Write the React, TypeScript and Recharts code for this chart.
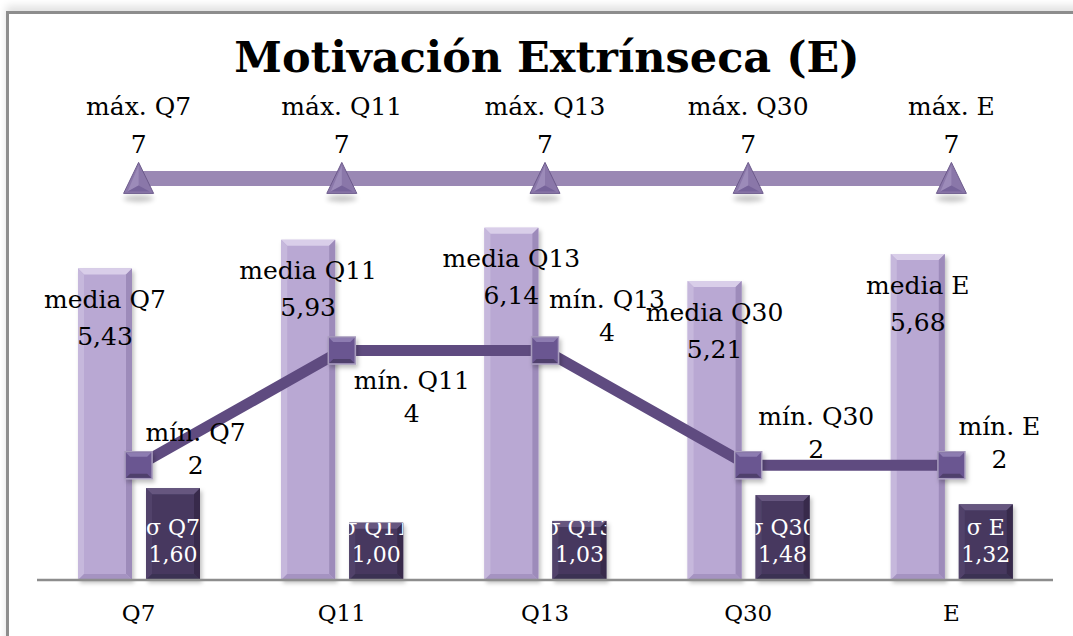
import React from "react";
import { ComposedChart, Bar, Line, XAxis, YAxis, LabelList } from "recharts";

const CATEGORIES = ["Q7", "Q11", "Q13", "Q30", "E"];
const MEDIA = [5.43, 5.93, 6.14, 5.21, 5.68];
const SIGMA = [1.6, 1.0, 1.03, 1.48, 1.32];
const MIN = [2, 4, 4, 2, 2];
const MAX = [7, 7, 7, 7, 7];

// the min labels were placed by hand in the original, offsets from the marker
const MIN_LABEL_OFFSET = [
  [57, -33],
  [70, 30],
  [62, -51],
  [68, -49],
  [48, -39],
];

const FONT = '"DejaVu Serif", Georgia, serif';
const fmt = (v: number) => v.toFixed(2).replace(".", ",");

const data = CATEGORIES.map((name, i) => ({
  name,
  media: MEDIA[i],
  sigma: SIGMA[i],
  min: MIN[i],
  max: MAX[i],
}));

const box = (p: any) => {
  const vb = p.viewBox && p.viewBox.width != null ? p.viewBox : p;
  return { x: Number(vb.x), y: Number(vb.y), width: Number(vb.width) || 0, height: Number(vb.height) || 0 };
};

function BevelBar(props: any) {
  const { x, y, width: w, height: h, face, light, left, right, bottom } = props;
  if (!h || h <= 0) return null;
  const b = 6;
  return (
    <g filter="url(#barShadow)">
      <rect x={x} y={y} width={w} height={h} fill={face} />
      <polygon points={`${x},${y} ${x + w},${y} ${x + w - b},${y + b} ${x + b},${y + b}`} fill={light} />
      <polygon points={`${x},${y} ${x + b},${y + b} ${x + b},${y + h - b} ${x},${y + h}`} fill={left} />
      <polygon points={`${x + w},${y} ${x + w},${y + h} ${x + w - b},${y + h - b} ${x + w - b},${y + b}`} fill={right} />
      <polygon points={`${x},${y + h} ${x + b},${y + h - b} ${x + w - b},${y + h - b} ${x + w},${y + h}`} fill={bottom} />
    </g>
  );
}

const MediaBar = (p: any) => (
  <BevelBar {...p} face="#B9A8D3" light="#D9CEE9" left="#C6B8DC" right="#9D8BBA" bottom="#A593C1" />
);
const SigmaBar = (p: any) => (
  <BevelBar {...p} face="#46395F" light="#66567F" left="#51436B" right="#372C4C" bottom="#3B3052" />
);

const MediaLabel = (p: any) => {
  const { x, y, width } = box(p);
  const cx = x + width / 2;
  const name = CATEGORIES[p.index];
  return (
    <g fontFamily={FONT} fontSize={25} fill="#000" textAnchor="middle">
      <text x={cx} y={y + 31} dominantBaseline="central">{`media ${name}`}</text>
      <text x={cx} y={y + 68} dominantBaseline="central">{fmt(MEDIA[p.index])}</text>
    </g>
  );
};

const SigmaLabel = (p: any) => {
  const { x, y, width, height } = box(p);
  const cx = x + width / 2;
  const bottom = y + height;
  const id = `sigma-clip-${p.index}`;
  return (
    <g fontFamily={FONT} fontSize={22} fill="#fff" textAnchor="middle">
      <defs>
        <clipPath id={id}>
          <rect x={x} y={y} width={width} height={height} />
        </clipPath>
      </defs>
      <g clipPath={`url(#${id})`}>
        <text x={cx} y={bottom - 53} dominantBaseline="central">{`σ ${CATEGORIES[p.index]}`}</text>
        <text x={cx} y={bottom - 26} dominantBaseline="central">{fmt(SIGMA[p.index])}</text>
      </g>
    </g>
  );
};

const TriangleDot = (p: any) => {
  const { cx, cy, index } = p;
  const w = 15;
  const top = cy - 16;
  const base = cy + 15;
  return (
    <g key={`tri-${index}`}>
      <ellipse cx={cx} cy={base + 5} rx={15} ry={3.5} fill="#000" opacity={0.22} filter="url(#softBlur)" />
      <polygon points={`${cx},${top} ${cx + w},${base} ${cx - w},${base}`} fill="#8A77A9" stroke="#6C5A8B" strokeWidth={1} />
      <polygon points={`${cx},${top + 3} ${cx - w + 4},${base - 2} ${cx},${base - 8}`} fill="#9C8BB9" />
      <polygon points={`${cx},${base - 8} ${cx - w + 4},${base - 2} ${cx + w - 4},${base - 2}`} fill="#76639A" />
    </g>
  );
};

const MaxLabel = (p: any) => {
  const { x, y } = box(p);
  return (
    <g fontFamily={FONT} fontSize={25} fill="#000" textAnchor="middle">
      <text x={x} y={y - 72} dominantBaseline="central">{`máx. ${CATEGORIES[p.index]}`}</text>
      <text x={x} y={y - 34} dominantBaseline="central">{String(MAX[p.index])}</text>
    </g>
  );
};

const SquareDot = (p: any) => {
  const { cx, cy, index } = p;
  const s = 13.5;
  const b = 4;
  return (
    <g key={`sq-${index}`} filter="url(#barShadow)">
      <rect x={cx - s} y={cy - s} width={2 * s} height={2 * s} fill="#6A5691" stroke="#A79BBD" strokeWidth={1.5} />
      <polygon
        points={`${cx - s + 1},${cy - s + 1} ${cx + s - 1},${cy - s + 1} ${cx + s - 1 - b},${cy - s + 1 + b} ${cx - s + 1 + b},${cy - s + 1 + b}`}
        fill="#8D7CB1"
      />
      <polygon
        points={`${cx - s + 1},${cy + s - 1} ${cx + s - 1},${cy + s - 1} ${cx + s - 1 - b},${cy + s - 1 - b} ${cx - s + 1 + b},${cy + s - 1 - b}`}
        fill="#4F3F6C"
      />
    </g>
  );
};

const MinLabel = (p: any) => {
  const { x, y } = box(p);
  const [dx, dy] = MIN_LABEL_OFFSET[p.index];
  return (
    <g fontFamily={FONT} fontSize={25} fill="#000" textAnchor="middle">
      <text x={x + dx} y={y + dy} dominantBaseline="central">{`mín. ${CATEGORIES[p.index]}`}</text>
      <text x={x + dx} y={y + dy + 33} dominantBaseline="central">{String(MIN[p.index])}</text>
    </g>
  );
};

const CategoryTick = (p: any) => (
  <text x={p.x} y={p.y + 33} fontFamily={FONT} fontSize={23} fill="#000" textAnchor="middle" dominantBaseline="central">
    {p.payload.value}
  </text>
);

export default function App() {
  return (
    <div style={{ position: "absolute", left: 0, top: 0, width: 1073, height: 636, overflow: "hidden", background: "#fff" }}>
      <div
        style={{
          position: "absolute",
          left: 6,
          top: 11,
          width: 1120,
          height: 700,
          borderLeft: "3px solid #8D8D8D",
          borderTop: "3px solid #8D8D8D",
          boxShadow: "0 -5px 8px rgba(0,0,0,0.12)",
        }}
      />
      <svg width={1073} height={90} style={{ position: "absolute", left: 0, top: 0 }}>
        <text x={547} y={72} textAnchor="middle" fontFamily={FONT} fontWeight="bold" fontSize={43} fill="#000">
          Motivación Extrínseca (E)
        </text>
      </svg>
      <div style={{ position: "absolute", left: 0, top: 0 }}>
        <ComposedChart width={1073} height={636} data={data} margin={{ top: 121, right: 20, bottom: 16, left: 37 }} barGap={14}>
          <defs>
            <filter id="barShadow" x="-20%" y="-20%" width="150%" height="150%">
              <feDropShadow dx={2} dy={3} stdDeviation={2} floodColor="#000" floodOpacity={0.25} />
            </filter>
            <filter id="softBlur" x="-50%" y="-200%" width="200%" height="500%">
              <feGaussianBlur stdDeviation={2.5} />
            </filter>
          </defs>
          <XAxis
            dataKey="name"
            height={40}
            tickLine={false}
            tickSize={0}
            tickMargin={0}
            axisLine={{ stroke: "#8D8D8D", strokeWidth: 2.5 }}
            tick={<CategoryTick />}
          />
          <YAxis hide domain={[0, 8]} />
          <Bar dataKey="media" barSize={54} shape={<MediaBar />} isAnimationActive={false}>
            <LabelList dataKey="media" content={<MediaLabel />} />
          </Bar>
          <Bar dataKey="sigma" barSize={54} shape={<SigmaBar />} isAnimationActive={false}>
            <LabelList dataKey="sigma" content={<SigmaLabel />} />
          </Bar>
          <Line
            type="linear"
            dataKey="min"
            stroke="#5F4B80"
            strokeWidth={11}
            dot={(p: any) => <SquareDot {...p} key={`sq-${p.index}`} />}
            activeDot={false}
            isAnimationActive={false}
          >
            <LabelList dataKey="min" content={<MinLabel />} />
          </Line>
          <Line
            type="linear"
            dataKey="max"
            stroke="#9A88B4"
            strokeWidth={15}
            dot={(p: any) => <TriangleDot {...p} key={`tri-${p.index}`} />}
            activeDot={false}
            isAnimationActive={false}
          >
            <LabelList dataKey="max" content={<MaxLabel />} />
          </Line>
        </ComposedChart>
      </div>
    </div>
  );
}
